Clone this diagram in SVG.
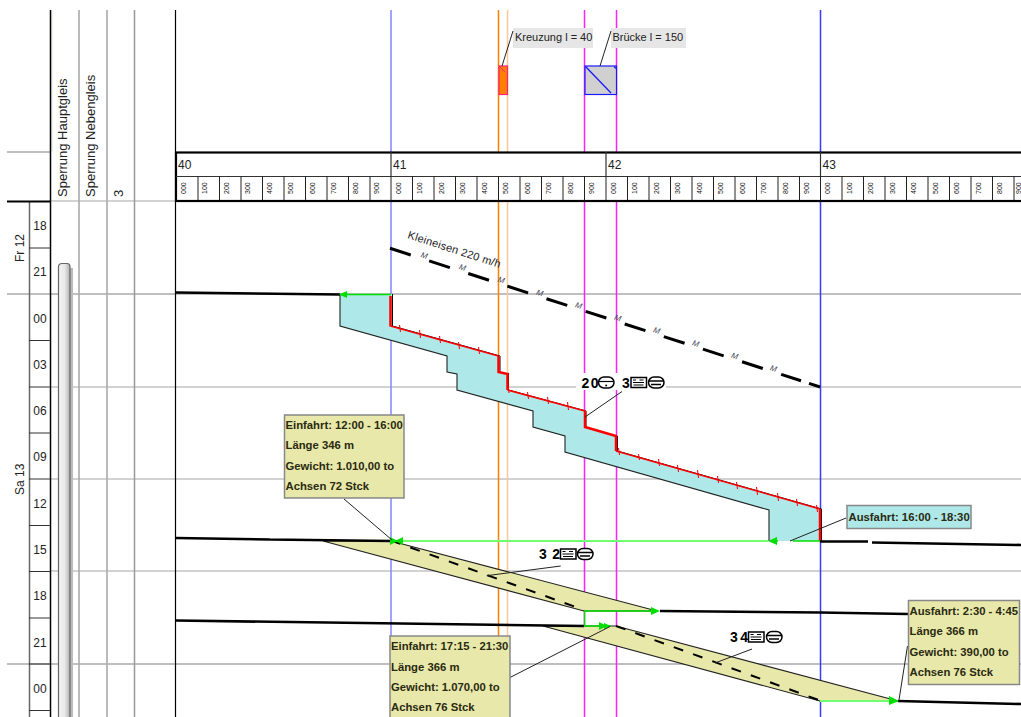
<svg xmlns="http://www.w3.org/2000/svg" xmlns:xlink="http://www.w3.org/1999/xlink" width="1021" height="717" viewBox="0 0 1021 717">
<style>
text{font-family:"Liberation Sans",Arial,sans-serif;fill:#222}
.hdr{font-size:12px}
.hr{font-size:12px;text-anchor:middle}
.col{font-size:13px}
.t{font-size:7px;fill:#111}
.m{font-size:8px;font-style:italic;fill:#445}
.note{font-size:11px}
.cb{font-size:11.3px;font-weight:bold;fill:#2a2a10}
.lab{font-size:14px;font-weight:bold;fill:#000}
.g1{stroke:#aaa;stroke-width:1.6;fill:none}
.g2{stroke:#c4c4c4;stroke-width:1.6;fill:none}
.k{stroke:#000;fill:none}
.trk{stroke:#000;stroke-width:2.6;fill:none}
.blue1{stroke:#8484ff;stroke-width:1.5}
.blue2{stroke:#3a3aff;stroke-width:1.5}
.or1{stroke:#ff8000;stroke-width:1.5}
.or2{stroke:#ffc898;stroke-width:1.5}
.mag{stroke:#ff20ff;stroke-width:1.5}
.ldr{stroke:#222;stroke-width:1;fill:none}
.poly{stroke:#222;stroke-width:1.1}
.edge{stroke:#222;stroke-width:1.1;fill:none}
.cy{fill:#aee8e8}
.ye{fill:#e8e8aa}
.box{stroke:#888;stroke-width:1.5}
.gr{stroke:#00e000;stroke-width:1.5;fill:none}
.lg{stroke:#70ff70;stroke-width:2;fill:none}
.dash{stroke:#000;stroke-width:2;stroke-dasharray:10 10.5;fill:none}
.red{stroke:#ff0000;fill:none}
.ah{fill:#00e000}
</style>
<defs>
<linearGradient id="bar" x1="0" x2="1" y1="0" y2="0"><stop offset="0" stop-color="#f4f4f4"/><stop offset=".55" stop-color="#e8e8e8"/><stop offset="1" stop-color="#b0b0b0"/></linearGradient>
<g id="ibox"><rect x="0.5" y="-5" width="15.5" height="10" fill="#fff" stroke="#000" stroke-width="1.5"/><path d="M2.5-2.5h3M2.5 0h11M9-2.500h4M3 2.500h10" stroke="#000" stroke-width="1.2" fill="none"/></g>
<g id="iround"><rect x="0.500" y="-5.500" width="15.500" height="11" rx="5.500" fill="#fff" stroke="#000" stroke-width="1.5"/><path d="M1-1.500h14M3 2h10" stroke="#000" stroke-width="1.500" fill="none"/></g>
<g id="ihalf"><rect x="0.500" y="-5.500" width="15.500" height="11" rx="5.500" fill="#fff" stroke="#000" stroke-width="1.500"/><path d="M1-1h14" stroke="#000" stroke-width="1.200"/><circle cx="8.200" cy="3" r="1" fill="#000"/></g>
</defs>

<g id="grid">
<path class="g1" d="M7 152H50M7 294H1021M7 664H1021"/>
<path class="g2" d="M50 387H1021M50 479H1021M50 571H1021M50 201H175"/>
<path stroke="#eeeee4" stroke-width="1.500" d="M52 10V152"/>
<path class="g1" d="M79 10V717M107 10V717"/>
<path stroke="#999" stroke-width="1.500" d="M134.500 10V717"/>
<path class="k" stroke-width="1.500" d="M50.500 10V717"/>
<path class="k" stroke-width="1.200" d="M175.500 10V717"/>
<path stroke="#666" stroke-width="1.500" d="M29.500 201V717"/>
<path class="k" stroke-width="2" d="M7 201.500H50"/>
<path stroke="#333" stroke-width="1" d="M29 248H50M29 340.500H50M29 387H50M29 433H50M29 479H50M29 525.500H50M29 571.500H50M29 618H50M29 664H50M29 710.500H50"/>
</g>

<g id="verticals">
<path class="blue1" d="M391 10V152M391 201V717"/>
<path class="blue2" d="M820.500 10V152M820.500 201V717"/>
<path class="or1" d="M498.500 10V152M498.500 201V640"/>
<path class="or2" d="M507.500 10V152M507.500 201V640"/>
<path class="mag" d="M584.500 10V152M584.500 201V717M616.500 10V152M616.500 201V717"/>
</g>

<g id="row-labels">
<text class="col" transform="translate(67,197) rotate(-90)">Sperrung Hauptgleis</text>
<text class="col" transform="translate(95,197) rotate(-90)">Sperrung Nebengleis</text>
<text class="col" transform="translate(123,197) rotate(-90)">3</text>
<text class="hdr" transform="translate(24,262) rotate(-90)">Fr 12</text>
<text class="hdr" transform="translate(24,495) rotate(-90)">Sa 13</text>
<text class="hr" x="40" y="230">18</text><text class="hr" x="40" y="276">21</text><text class="hr" x="40" y="323">00</text><text class="hr" x="40" y="369">03</text><text class="hr" x="40" y="415">06</text><text class="hr" x="40" y="461">09</text><text class="hr" x="40" y="508">12</text><text class="hr" x="40" y="554">15</text><text class="hr" x="40" y="600">18</text><text class="hr" x="40" y="647">21</text><text class="hr" x="40" y="693">00</text>
</g>

<g id="sperrung-bar">
<path d="M70 268V717H73V268Z" fill="#bbb"/>
<path d="M58.500 717V267Q58.500 263.500 62 263.500H67Q70 263.500 70 267V717" fill="url(#bar)" stroke="#666" stroke-width="1.200"/>
</g>

<g id="km-header">
<rect x="176" y="152.500" width="850" height="48.500" fill="#fff" stroke="#000" stroke-width="2.200"/>
<path stroke="#333" stroke-width="1.200" d="M176 176.500H1021M391 152V176M606 152V176M820.500 152V176"/>
<path stroke="#222" stroke-width="1" d="M198 176V200M219.500 176V200M241 176V200M262.500 176V200M284 176V200M305.500 176V200M327 176V200M348.500 176V200M370 176V200M391 176V200M412.500 176V200M434 176V200M455.500 176V200M477 176V200M498.500 176V200M520 176V200M541.500 176V200M563 176V200M584.500 176V200M606 176V200M627.500 176V200M649 176V200M670.500 176V200M692 176V200M713.500 176V200M735 176V200M756.500 176V200M778 176V200M799.500 176V200M820.500 176V200M842 176V200M863.500 176V200M885 176V200M906.500 176V200M928 176V200M949.500 176V200M971 176V200M992.500 176V200M1014 176V200"/>
<text class="hdr" x="178" y="169">40</text><text class="hdr" x="393" y="169">41</text><text class="hdr" x="608" y="169">42</text><text class="hdr" x="822.500" y="169">43</text>
<g id="km-ticks">
<text class="t" transform="translate(185.500,194) rotate(-90)">000</text><text class="t" transform="translate(207,194) rotate(-90)">100</text><text class="t" transform="translate(228.500,194) rotate(-90)">200</text><text class="t" transform="translate(250,194) rotate(-90)">300</text><text class="t" transform="translate(271.500,194) rotate(-90)">400</text><text class="t" transform="translate(293,194) rotate(-90)">500</text><text class="t" transform="translate(314.500,194) rotate(-90)">600</text><text class="t" transform="translate(336,194) rotate(-90)">700</text><text class="t" transform="translate(357.500,194) rotate(-90)">800</text><text class="t" transform="translate(379,194) rotate(-90)">900</text>
<text class="t" transform="translate(400.500,194) rotate(-90)">000</text><text class="t" transform="translate(422,194) rotate(-90)">100</text><text class="t" transform="translate(443.500,194) rotate(-90)">200</text><text class="t" transform="translate(465,194) rotate(-90)">300</text><text class="t" transform="translate(486.500,194) rotate(-90)">400</text><text class="t" transform="translate(508,194) rotate(-90)">500</text><text class="t" transform="translate(529.500,194) rotate(-90)">600</text><text class="t" transform="translate(551,194) rotate(-90)">700</text><text class="t" transform="translate(572.500,194) rotate(-90)">800</text><text class="t" transform="translate(594,194) rotate(-90)">900</text>
<text class="t" transform="translate(615.500,194) rotate(-90)">000</text><text class="t" transform="translate(637,194) rotate(-90)">100</text><text class="t" transform="translate(658.500,194) rotate(-90)">200</text><text class="t" transform="translate(680,194) rotate(-90)">300</text><text class="t" transform="translate(701.500,194) rotate(-90)">400</text><text class="t" transform="translate(723,194) rotate(-90)">500</text><text class="t" transform="translate(744.500,194) rotate(-90)">600</text><text class="t" transform="translate(766,194) rotate(-90)">700</text><text class="t" transform="translate(787.500,194) rotate(-90)">800</text><text class="t" transform="translate(809,194) rotate(-90)">900</text>
<text class="t" transform="translate(830,194) rotate(-90)">000</text><text class="t" transform="translate(851.500,194) rotate(-90)">100</text><text class="t" transform="translate(873,194) rotate(-90)">200</text><text class="t" transform="translate(894.500,194) rotate(-90)">300</text><text class="t" transform="translate(916,194) rotate(-90)">400</text><text class="t" transform="translate(937.500,194) rotate(-90)">500</text><text class="t" transform="translate(959,194) rotate(-90)">600</text><text class="t" transform="translate(980.500,194) rotate(-90)">700</text><text class="t" transform="translate(1002,194) rotate(-90)">800</text><text class="t" transform="translate(1020.500,194) rotate(-90)">900</text>
</g>
</g>

<g id="kreuzung">
<rect x="499" y="66" width="8.500" height="28.500" fill="#ff8000" stroke="#ff2080" stroke-width="1.200"/>
<path d="M499.500 66.500L505 72" stroke="#ff2080" stroke-width="1"/>
<rect x="513" y="28" width="80" height="20" fill="#e6e6e6"/>
<path class="ldr" d="M513 31L502 66"/>
<text class="note" x="515" y="40.500">Kreuzung l = 40</text>
</g>
<g id="bruecke">
<rect x="585" y="66" width="31.500" height="28.500" fill="#d0d0d0" stroke="#1a1aff" stroke-width="1.200"/>
<path d="M585.500 66.500L611 93M614 66.500L616 68.500" stroke="#1a1aff" stroke-width="1.300"/>
<rect x="611" y="28" width="75" height="20" fill="#e6e6e6"/>
<path class="ldr" d="M611 31L600 66"/>
<text class="note" x="612.500" y="40.500">Brücke l = 150</text>
</g>

<g id="sperrung-cyan">
<polygon class="cy" points="340,294 392,294 392,326 500,356 500,372 508,373 508,390 586,411 586,427 617,436 617,451 821,509 821,541 769,541 769,510 565,452 565,436 533,427 533,411 457,390 457,374 447,372 447,356 340,326"/>
<path class="edge" d="M340 294V326L447 356V372L457 374V390L533 411V427L565 436V452L769 510V541"/>
<path class="k" stroke-width="1" d="M392.500 294V326L500 356V372M508.500 373V390L586 411V427M617.500 436V451L821.500 509V541"/>
<path class="red" stroke-width="2.500" d="M390.500 296V326.500M498.500 356V372L507.500 374V390M585 411V427L616 436V451M820 509V541"/>
<path class="red" stroke-width="1.500" d="M390.500 326L498.500 356M507.500 390L585 411M616 451L820 509"/>
<path class="red" stroke-width="1" d="M399.500 325L400.500 332M419.500 330L420.500 338M439.500 336L440.500 343M458.500 342L459.500 349M478.500 347L479.500 354M508 386L509 393M527.500 392L528.500 399M547.500 397L548.500 404M567.500 402L568.500 410M618.500 448L619.500 455M638.500 454L639.500 460M658.500 459L659.500 466M677.500 465L678.500 472M697.500 470L698.500 478M717.500 476L718.500 483M736.500 482L737.500 489M756.500 487L757.500 495M777.500 493L778.500 501M796.500 499L797.500 506M816.500 505L817.500 512"/>
</g>

<g id="kleineisen">
<path d="M390 248.300L801 380.800M809 383.400L820 387" stroke="#000" stroke-width="3" stroke-dasharray="21.800 19.300" fill="none"/>
<text transform="translate(407,238) rotate(18)" font-size="11" textLength="97" fill="#333">Kleineisen 220 m/h</text>
<text class="m" text-anchor="middle" transform="translate(423.300,258) rotate(18)">M</text>
<text class="m" text-anchor="middle" transform="translate(461.700,270) rotate(18)">M</text>
<text class="m" text-anchor="middle" transform="translate(500.500,282.500) rotate(18)">M</text>
<text class="m" text-anchor="middle" transform="translate(539,295.500) rotate(18)">M</text>
<text class="m" text-anchor="middle" transform="translate(578,308) rotate(18)">M</text>
<text class="m" text-anchor="middle" transform="translate(617,320.500) rotate(18)">M</text>
<text class="m" text-anchor="middle" transform="translate(656,333) rotate(18)">M</text>
<text class="m" text-anchor="middle" transform="translate(695,346) rotate(18)">M</text>
<text class="m" text-anchor="middle" transform="translate(734,358.500) rotate(18)">M</text>
<text class="m" text-anchor="middle" transform="translate(772.700,371) rotate(18)">M</text>
</g>

<g id="sperrung-yellow-1">
<polygon class="ye poly" points="323,541 391,541 657,611 584,611"/>
<path class="dash" d="M391 540.500L584 610"/>
</g>
<g id="sperrung-yellow-2">
<polygon class="ye poly" points="543,626 616,626 898,701 820,701"/>
<path class="dash" d="M616 626L820 700.500"/>
</g>

<g id="connectors">
<path class="trk" d="M176 292.500L340 294.500"/>
<path class="trk" d="M176 538L270 539.500M270 539.500L391 541M820 541.500L868 541.500M872 542.500L1021 545"/>
<path class="trk" d="M176 620.500L584 626M660 611L820 612.500L908 614"/>
<path class="trk" d="M898 701L1021 704"/>
<path class="gr" d="M340 294.500H391"/>
<polygon class="ah" points="339,294.500 347,291 347,298"/>
<path class="lg" d="M391 541H768"/>
<path class="gr" stroke-width="1.500" d="M793 541H820M770 541H778"/>
<polygon class="ah" points="768,541 777,537 777,545"/>
<polygon class="ah" points="390,537 390,545 398,541"/>
<polygon class="ah" points="403,537 403,545 395,541"/>
<path class="gr" d="M584.500 611V626H610M584.500 611H655"/>
<polygon class="ah" points="660,611 651,607 651,615"/>
<polygon class="ah" points="607,626 599,622 599,630"/>
<polygon class="ah" points="611,626 604,623 604,629"/>
<path class="lg" d="M820 701H890"/>
<polygon class="ah" points="899,701 889,696 889,705"/>
</g>

<g id="train-20">
<rect x="576" y="373" width="90" height="17" fill="#fff"/>
<path class="ldr" d="M622 391.500L585 417"/>
<text class="lab" x="581.500" y="388" textLength="17" lengthAdjust="spacing">2 0</text>
<use xlink:href="#ihalf" href="#ihalf" x="598" y="382.500"/>
<text class="lab" x="622" y="388">3</text>
<use xlink:href="#ibox" href="#ibox" x="630.500" y="382.500"/>
<use xlink:href="#iround" href="#iround" x="648" y="382.500"/>
</g>
<g id="train-32">
<path class="ldr" d="M560.700 566L486.700 575.700"/>
<text class="lab" x="539" y="559" textLength="21" lengthAdjust="spacing">3 2</text>
<use xlink:href="#ibox" href="#ibox" x="560" y="554"/>
<use xlink:href="#iround" href="#iround" x="577" y="554"/>
</g>
<g id="train-34">
<path class="ldr" d="M752 649L715 663"/>
<text class="lab" x="730" y="642" textLength="18" lengthAdjust="spacing">3 4</text>
<use xlink:href="#ibox" href="#ibox" x="748" y="637"/>
<use xlink:href="#iround" href="#iround" x="766" y="637"/>
</g>

<g id="einfahrt-1">
<path class="ldr" d="M344 499L392 540"/>
<rect class="ye box" x="284.500" y="415" width="119.500" height="83"/>
<text class="cb" x="285.500" y="428.500">Einfahrt: 12:00 - 16:00</text>
<text class="cb" x="285.500" y="449">Länge 346 m</text>
<text class="cb" x="285.500" y="469.500">Gewicht: 1.010,00 to</text>
<text class="cb" x="285.500" y="490">Achsen 72 Stck</text>
</g>
<g id="ausfahrt-1">
<path class="ldr" d="M846 518L790 541"/>
<rect class="cy box" x="847" y="505.500" width="124" height="23"/>
<text class="cb" x="848.500" y="520.500">Ausfahrt: 16:00 - 18:30</text>
</g>
<g id="einfahrt-2">
<path class="ldr" d="M510 677.500L610 626.500"/>
<rect class="ye box" x="390" y="636" width="120" height="84"/>
<text class="cb" x="391" y="650">Einfahrt: 17:15 - 21:30</text>
<text class="cb" x="391" y="671">Länge 366 m</text>
<text class="cb" x="391" y="691">Gewicht: 1.070,00 to</text>
<text class="cb" x="391" y="711">Achsen 76 Stck</text>
</g>
<g id="ausfahrt-2">
<path class="ldr" d="M907.500 646L899 700"/>
<rect class="ye box" x="908.500" y="600.500" width="111" height="84"/>
<text class="cb" x="909.500" y="614.500">Ausfahrt: 2:30 - 4:45</text>
<text class="cb" x="909.500" y="635">Länge 366 m</text>
<text class="cb" x="909.500" y="655.500">Gewicht: 390,00 to</text>
<text class="cb" x="909.500" y="675.500">Achsen 76 Stck</text>
</g>
</svg>
